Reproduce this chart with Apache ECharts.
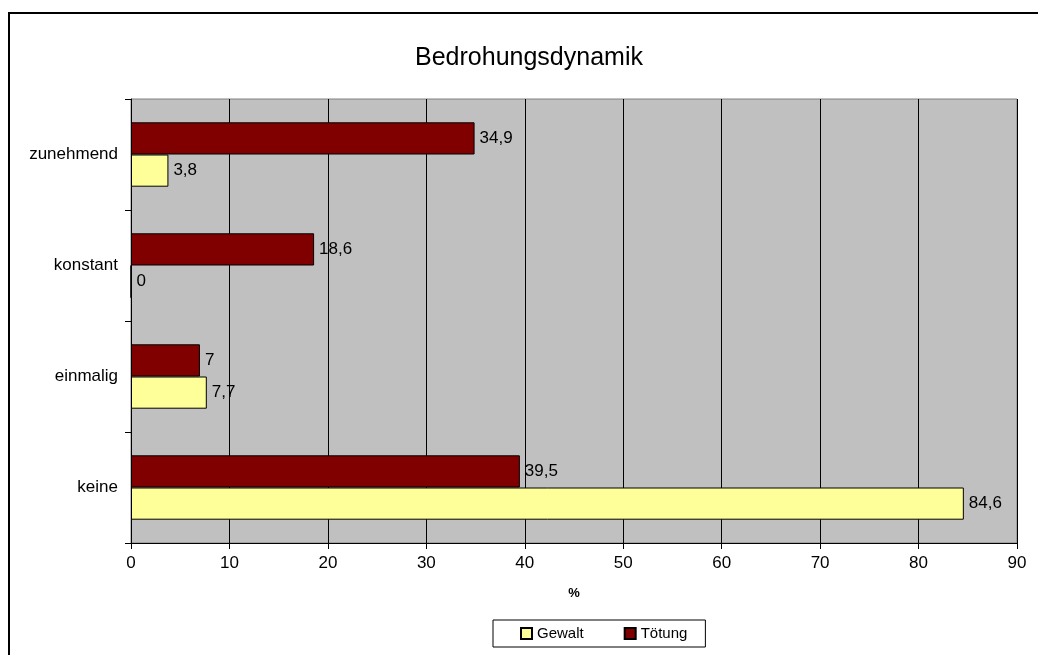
<!DOCTYPE html>
<html>
<head>
<meta charset="utf-8">
<script src="https://cdn.jsdelivr.net/npm/echarts@6/dist/echarts.min.js"></script>
<style>
html,body{margin:0;padding:0;background:#fff;}
#chart{width:1038px;height:655px;}
</style>
</head>
<body>
<div id="chart"></div>
<script>
// Categories listed bottom to top along the vertical axis
const categories = ['keine', 'einmalig', 'konstant', 'zunehmend'];
const gewalt = [84.6, 7.7, 0, 3.8];
const toetung = [39.5, 7, 18.6, 34.9];
const valueTicks = [0, 10, 20, 30, 40, 50, 60, 70, 80, 90];

const FONT = '"Liberation Sans", Arial, sans-serif';
const fmt = p => String(p.value).replace('.', ',');

const labelStyle = {
  show: true, position: 'right', distance: 5, formatter: fmt,
  fontFamily: FONT, fontSize: 17, color: '#000'
};

const chart = echarts.init(document.getElementById('chart'));
chart.setOption({
  animation: false,
  backgroundColor: '#ffffff',
  textStyle: { fontFamily: FONT, color: '#000' },
  graphic: [{
    type: 'rect',
    shape: { x: 9, y: 13, width: 1100, height: 700 },
    style: { fill: 'none', stroke: '#000', lineWidth: 2 },
    silent: true
  }],
  title: {
    text: 'Bedrohungsdynamik',
    left: 524, top: 41, textAlign: 'center',
    textStyle: { fontFamily: FONT, fontSize: 25, fontWeight: 'normal', color: '#000' }
  },
  legend: {
    data: ['Gewalt', 'Tötung'],
    left: 493, top: 620,
    padding: [6, 18, 6, 27],
    itemGap: 40,
    itemWidth: 11, itemHeight: 11,
    icon: 'rect',
    borderColor: '#000', borderWidth: 1,
    textStyle: { fontFamily: FONT, fontSize: 15, color: '#000' }
  },
  grid: {
    left: 131, right: 21, top: 99, bottom: 112,
    show: true, backgroundColor: '#c0c0c0', borderColor: '#808080', borderWidth: 1,
    containLabel: false
  },
  xAxis: {
    type: 'value', min: valueTicks[0], max: valueTicks[valueTicks.length - 1], interval: 10,
    name: '%', nameLocation: 'middle', nameGap: 44,
    nameTextStyle: { fontFamily: FONT, fontSize: 13, fontWeight: 'bold', color: '#000' },
    axisLine: { show: true, lineStyle: { color: '#000', width: 1 } },
    axisTick: { show: true, length: 6, lineStyle: { color: '#000' } },
    axisLabel: { fontFamily: FONT, fontSize: 17, color: '#000', margin: 12 },
    splitLine: { show: true, lineStyle: { color: '#000', width: 1 } }
  },
  yAxis: {
    type: 'category', data: categories,
    axisLine: { show: true, lineStyle: { color: '#000', width: 1 } },
    axisTick: { show: true, length: 6, lineStyle: { color: '#000' } },
    axisLabel: { fontFamily: FONT, fontSize: 17, color: '#000', margin: 13 },
    splitLine: { show: false }
  },
  series: [
    {
      name: 'Tötung', type: 'bar', data: toetung,
      barGap: '0%', barCategoryGap: '42%',
      itemStyle: { color: '#800000', borderColor: '#000', borderWidth: 1 },
      label: labelStyle
    },
    {
      name: 'Gewalt', type: 'bar', data: gewalt,
      barGap: '0%', barCategoryGap: '42%',
      itemStyle: { color: '#ffff99', borderColor: '#000', borderWidth: 1 },
      label: labelStyle
    }
  ]
});
</script>
</body>
</html>
